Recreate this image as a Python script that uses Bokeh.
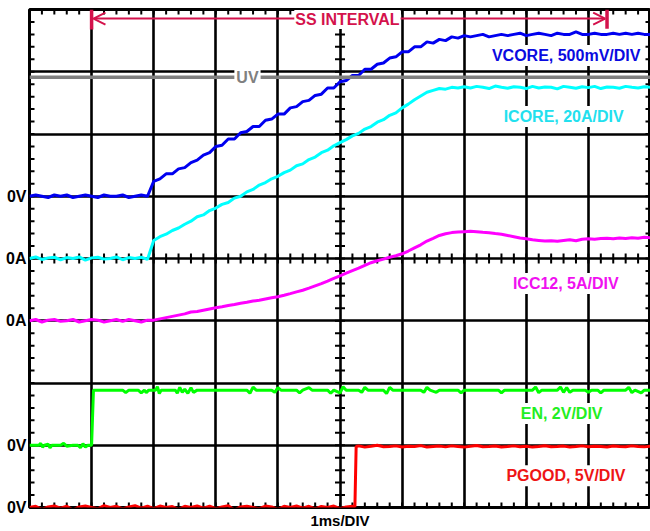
import numpy as np
from bokeh.plotting import figure
from bokeh.models import Label, Span, Arrow, OpenHead, FixedTicker, Range1d
from bokeh.embed import file_html
from bokeh.resources import INLINE

# ---------------- data (read from the scope shot) ----------------
# sample clock, ms (1 ms/div, 10 divisions)
T = [round(0.1 * i, 1) for i in range(101)]

# VCORE, volts
VCORE_V = [0.00, 0.01, 0.00, -0.01, 0.01, 0.00, 0.01, -0.01, 0.00, 0.01,
           0.00, -0.01, 0.01, 0.00, 0.00, 0.01, -0.01, 0.00, 0.01, 0.00,
           0.12, 0.14, 0.18, 0.18, 0.22, 0.23, 0.27, 0.29, 0.33, 0.35,
           0.40, 0.41, 0.46, 0.46, 0.51, 0.52, 0.56, 0.56, 0.61, 0.62,
           0.66, 0.66, 0.71, 0.72, 0.76, 0.77, 0.81, 0.82, 0.87, 0.87,
           0.92, 0.93, 0.97, 0.97, 1.02, 1.02, 1.06, 1.07, 1.11, 1.12,
           1.16, 1.16, 1.20, 1.20, 1.24, 1.23, 1.26, 1.25, 1.28, 1.27,
           1.29, 1.28, 1.29, 1.30, 1.28, 1.29, 1.30, 1.29, 1.30, 1.31,
           1.29, 1.30, 1.31, 1.30, 1.29, 1.31, 1.30, 1.30, 1.32, 1.30,
           1.30, 1.31, 1.30, 1.30, 1.31, 1.30, 1.31, 1.30, 1.31, 1.30,
           1.30]

# ICORE, amps
ICORE_A = [0.0, 0.5, -0.3, 0.2, 0.4, -0.4, 0.3, 0.0, 0.5, -0.5,
           0.2, 0.4, -0.2, 0.0, 0.5, -0.4, 0.3, 0.0, 0.4, -0.3,
           5.8, 7.0, 7.8, 9.0, 9.8, 11.0, 12.0, 13.4, 14.0, 15.4,
           16.2, 17.4, 18.0, 19.4, 20.0, 21.4, 22.2, 23.6, 24.4, 25.6,
           26.4, 27.6, 28.4, 29.8, 30.4, 31.8, 32.6, 34.0, 34.8, 36.2,
           37.2, 38.2, 39.4, 40.2, 41.6, 42.4, 43.8, 44.6, 46.0, 46.8,
           48.4, 49.6, 51.0, 52.2, 53.4, 54.0, 54.6, 54.4, 55.0, 54.8,
           55.2, 54.8, 55.3, 55.0, 54.6, 55.4, 55.0, 54.7, 55.2, 55.0,
           54.6, 55.3, 54.8, 55.1, 55.0, 54.5, 55.3, 55.0, 54.7, 55.2,
           54.9, 55.3, 54.6, 55.1, 55.0, 54.7, 55.3, 55.0, 54.8, 55.2,
           55.0]

# ICC12, amps
ICC12_A = [0.0, 0.1, -0.1, 0.05, 0.1, -0.05, 0.0, 0.1, -0.1, 0.0,
           0.1, 0.05, -0.1, 0.0, 0.1, -0.05, 0.1, 0.0, -0.1, 0.05,
           0.05, 0.15, 0.25, 0.35, 0.45, 0.55, 0.70, 0.75, 0.85, 0.95,
           1.05, 1.12, 1.22, 1.30, 1.40, 1.48, 1.58, 1.65, 1.75, 1.85,
           1.93, 2.05, 2.18, 2.32, 2.45, 2.62, 2.80, 2.98, 3.18, 3.40,
           3.61, 3.82, 4.02, 4.22, 4.45, 4.66, 4.82, 4.95, 5.10, 5.22,
           5.38, 5.60, 5.85, 6.10, 6.40, 6.62, 6.85, 6.99, 7.08, 7.12,
           7.15, 7.18, 7.15, 7.10, 7.07, 7.00, 6.95, 6.85, 6.75, 6.65,
           6.59, 6.50, 6.45, 6.40, 6.43, 6.38, 6.45, 6.50, 6.42, 6.55,
           6.59, 6.55, 6.60, 6.62, 6.58, 6.65, 6.60, 6.66, 6.62, 6.70,
           6.67]

# EN, volts
EN_T = [0.0, 0.15, 0.18, 0.21, 0.24, 0.3, 0.33, 0.36, 0.5, 0.55, 0.6, 0.7, 0.78,
        0.82, 0.86, 0.9, 0.94, 1.0, 1.03, 1.5, 1.55, 1.6, 1.75, 1.8, 1.85, 1.88,
        1.92, 2.03, 2.06, 2.09, 2.12, 2.35, 2.38, 2.42, 2.46, 2.5, 2.55, 2.6,
        2.64, 2.7, 3.0, 3.5, 3.55, 3.6, 3.65, 3.9, 3.95, 4.0, 4.05, 4.3, 4.35,
        4.4, 4.5, 4.55, 4.8, 4.85, 4.9, 5.0, 5.05, 5.1, 5.3, 5.35, 5.4, 5.45,
        5.7, 5.75, 5.8, 5.85, 6.3, 6.35, 6.4, 6.45, 6.55, 6.6, 6.9, 6.95, 7.0,
        7.55, 7.6, 7.65, 8.1, 8.15, 8.2, 8.25, 8.5, 8.55, 8.6, 8.65, 8.7, 8.75,
        8.95, 9.0, 9.05, 9.15, 9.2, 9.25, 9.6, 9.65, 9.7, 9.75, 9.85, 9.9, 10.0]
EN_V = [0.0, 0.0, 0.06, -0.06, 0.0, 0.03, -0.08, 0.0, 0.0, 0.06, -0.03, 0.0, 0.0,
        -0.08, 0.05, -0.06, 0.0, 0.0, 1.77, 1.77, 1.69, 1.77, 1.77, 1.68, 1.77, 1.69,
        1.77, 1.77, 1.88, 1.66, 1.77, 1.77, 1.67, 1.86, 1.70, 1.80, 1.67, 1.85,
        1.70, 1.77, 1.77, 1.77, 1.67, 1.87, 1.77, 1.77, 1.70, 1.85, 1.77, 1.77, 1.68,
        1.77, 1.85, 1.77, 1.77, 1.67, 1.77, 1.68, 1.88, 1.77, 1.77, 1.70, 1.86, 1.77,
        1.77, 1.66, 1.86, 1.77, 1.77, 1.70, 1.86, 1.77, 1.70, 1.77, 1.77, 1.68, 1.77,
        1.77, 1.68, 1.77, 1.77, 1.87, 1.69, 1.77, 1.77, 1.87, 1.70, 1.85, 1.70, 1.77,
        1.77, 1.70, 1.77, 1.77, 1.68, 1.77, 1.77, 1.86, 1.69, 1.77, 1.68, 1.77, 1.77]

# PGOOD, volts (low before the edge, high after it)
PG_LOW = [0.0, 0.1, -0.15, 0.05, 0.12, -0.05, 0.1, -0.2, 0.05, 0.12,
          0.0, -0.1, 0.15, 0.0, 0.1, -0.12, 0.05, 0.15, -0.05, 0.1,
          -0.1, 0.12, 0.0, 0.08, -0.15, 0.1, 0.0, 0.12, -0.05, 0.1,
          -0.1, 0.05, 0.15, -0.2, 0.05, 0.1, 0.0, -0.1, 0.12, 0.05,
          -0.15, 0.1, 0.0, 0.12, -0.05, 0.1, -0.12, 0.08, 0.0, 0.12,
          -0.1, 0.05, 0.1]
PG_EDGE_T = [5.24, 5.26]
PG_EDGE_V = [0.05, 4.90]
PG_HIGH = [4.95, 4.85, 4.92, 5.0, 4.88, 4.9, 4.95, 4.86, 4.92, 4.9,
           4.97, 4.85, 4.9, 4.93, 4.87, 4.95, 4.9, 4.85, 4.92, 4.98,
           4.88, 4.9, 4.94, 4.86, 4.9, 4.95, 4.88, 4.92, 4.85, 4.9,
           4.96, 4.88, 4.9, 4.93, 4.86, 4.9, 4.95, 4.88, 4.92, 4.9,
           4.86, 4.94, 4.9, 4.88, 4.95, 4.9, 4.87, 4.92]
PG_T = T[:53] + PG_EDGE_T + T[53:]
PG_V = PG_LOW + PG_EDGE_V + PG_HIGH

# channel ground position (div from bottom) and scale (units / div)
VCORE_CH = (5, 0.5)
ICORE_CH = (4, 20.0)
ICC12_CH = (3, 5.0)
EN_CH = (1, 2.0)
PG_CH = (0, 5.0)

UV_LEVEL = 0.956          # V, on the VCORE channel
SS_START, SS_END = 1.0, 9.3   # ms

GROUND_TICKS = [0, 1, 3, 4, 5]
GROUND_LABELS = {0: "0V", 1: "0V", 3: "0A", 4: "0A", 5: "0V"}

# ---------------- figure ----------------
FONT = "Liberation Sans"
p = figure(width=650, height=531, output_backend="svg", toolbar_location=None,
           x_range=Range1d(0, 10), y_range=Range1d(0, 8),
           min_border_left=29, min_border_right=0, min_border_top=9, min_border_bottom=24)
p.background_fill_color = "white"
p.border_fill_color = "white"
p.outline_line_color = "black"
p.outline_line_width = 3

p.xgrid.ticker = FixedTicker(ticks=list(range(11)))
p.ygrid.ticker = FixedTicker(ticks=list(range(9)))
for g in (p.xgrid, p.ygrid):
    g.grid_line_color = "black"
    g.grid_line_width = 2.6
    g.grid_line_alpha = 1.0

# left axis: ground markers
ya = p.yaxis[0]
ya.ticker = FixedTicker(ticks=GROUND_TICKS)
ya.major_label_overrides = GROUND_LABELS
ya.major_tick_line_color = None
ya.minor_tick_line_color = None
ya.major_tick_out = 0
ya.major_tick_in = 0
ya.minor_tick_out = 0
ya.minor_tick_in = 0
ya.axis_line_color = None
ya.major_label_standoff = 3
ya.major_label_text_font = FONT
ya.major_label_text_font_style = "bold"
ya.major_label_text_font_size = "16px"
ya.major_label_text_color = "black"

# bottom axis: time base
xa = p.xaxis[0]
xa.ticker = FixedTicker(ticks=[])
xa.major_tick_line_color = None
xa.minor_tick_line_color = None
xa.major_tick_out = 0
xa.major_tick_in = 0
xa.minor_tick_out = 0
xa.minor_tick_in = 0
xa.axis_line_color = None
xa.axis_label = "1ms/DIV"
xa.axis_label_standoff = 4
xa.axis_label_text_font = FONT
xa.axis_label_text_font_style = "bold"
xa.axis_label_text_font_size = "15px"
xa.axis_label_text_color = "black"

# graticule minor ticks (5 per division) on edges and centre lines
dx, dy = 5 / 62.1, 5 / 62.25
mx = np.round(np.arange(0, 10.001, 0.2), 3)
my = np.round(np.arange(0, 8.001, 0.2), 3)
x0 = np.concatenate([mx, mx, mx, np.zeros_like(my), np.full_like(my, 10), np.full_like(my, 5 - dx)])
x1 = np.concatenate([mx, mx, mx, np.full_like(my, dx), np.full_like(my, 10 - dx), np.full_like(my, 5 + dx)])
y0 = np.concatenate([np.full_like(mx, 8), np.zeros_like(mx), np.full_like(mx, 4 - dy), my, my, my])
y1 = np.concatenate([np.full_like(mx, 8 - dy), np.full_like(mx, dy), np.full_like(mx, 4 + dy), my, my, my])
p.segment(x0, y0, x1, y1, line_color="black", line_width=2)

# UV threshold line
p.add_layout(Span(location=VCORE_CH[0] + UV_LEVEL / VCORE_CH[1], dimension="width",
                  line_color="#808080", line_width=3.5))


def scr(vals, ch):
    off, sc = ch
    return [off + v / sc for v in vals]


LW = 3
p.line(T, scr(ICC12_A, ICC12_CH), line_color="#FF00FF", line_width=LW)
p.line(T, scr(ICORE_A, ICORE_CH), line_color="#00FFFF", line_width=LW)
p.line(T, scr(VCORE_V, VCORE_CH), line_color="#0000F0", line_width=LW)
p.line(EN_T, scr(EN_V, EN_CH), line_color="#00FF00", line_width=LW)
p.line(PG_T, scr(PG_V, PG_CH), line_color="#FF0000", line_width=LW)

# SS interval arrow
SS_COL = "#D4124C"
ys = 7.855
p.add_layout(Arrow(start=OpenHead(size=12, line_color=SS_COL, line_width=2),
                   end=OpenHead(size=12, line_color=SS_COL, line_width=2),
                   x_start=SS_START + 0.03, y_start=ys, x_end=SS_END - 0.03, y_end=ys,
                   line_color=SS_COL, line_width=2))
p.segment([SS_START, SS_END], [8, 8], [SS_START, SS_END], [7.68, 7.69],
          line_color=SS_COL, line_width=3.5)


def lab(x, y, text, color, align="right", pad=2):
    p.add_layout(Label(x=x, y=y, text=text, text_align=align, text_baseline="middle",
                       text_color=color, text_font=FONT, text_font_style="bold",
                       text_font_size="16px", background_fill_color="white",
                       padding=pad))


lab(5.12, 7.84, "SS INTERVAL", SS_COL, align="center", pad=1)
lab(3.51, 6.91, "UV", "#808080", align="center", pad=2)
lab(9.87, 7.26, "VCORE, 500mV/DIV", "#0A0AE0")
lab(9.60, 6.28, "ICORE, 20A/DIV", "#22E0EE")
lab(9.52, 3.60, "ICC12, 5A/DIV", "#F010F0")
lab(9.26, 1.51, "EN, 2V/DIV", "#22EE22")
lab(9.63, 0.51, "PGOOD, 5V/DIV", "#EE1515")

open("out.html", "w").write(file_html(p, INLINE))
